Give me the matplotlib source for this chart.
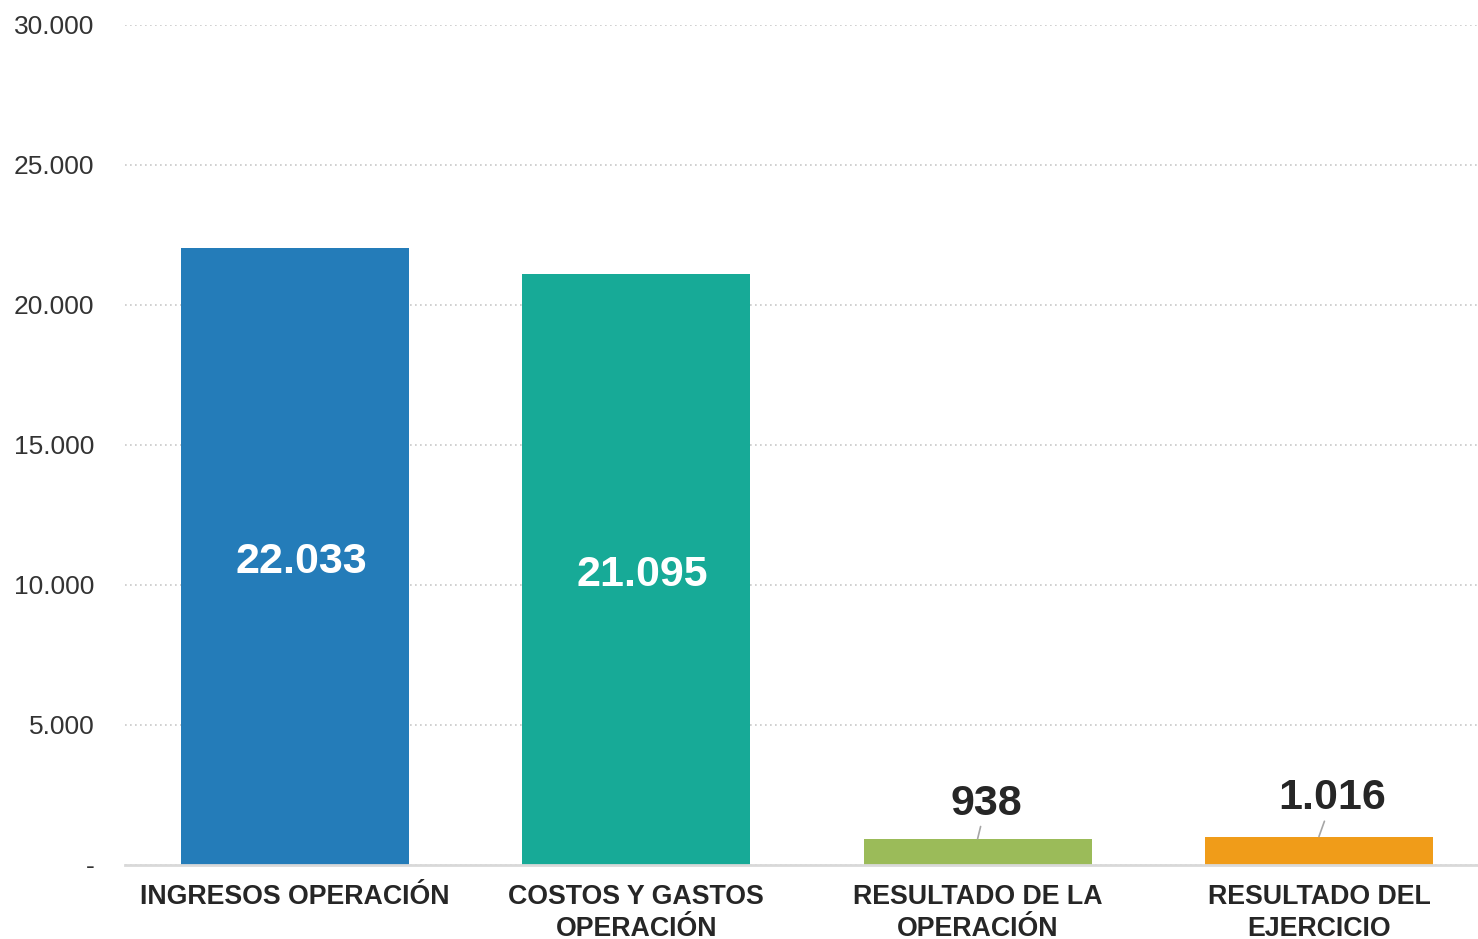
import matplotlib.pyplot as plt
from matplotlib.ticker import FuncFormatter

categorias = ["INGRESOS OPERACIÓN", "COSTOS Y GASTOS\nOPERACIÓN",
              "RESULTADO DE LA\nOPERACIÓN", "RESULTADO DEL\nEJERCICIO"]
valores = [22033, 21095, 938, 1016]
etiquetas = ["22.033", "21.095", "938", "1.016"]
colores = ["#247CB9", "#17AA97", "#9BBB59", "#F09C19"]
ticks_y = [0, 5000, 10000, 15000, 20000, 25000, 30000]

plt.rcParams['font.family'] = ['Liberation Sans', 'DejaVu Sans']

fig = plt.figure(figsize=(14.78, 9.39), dpi=100)
ax = fig.add_axes([125 / 1478, 74 / 939, 1 - 125 / 1478, 840 / 939])

x = list(range(len(valores)))
ax.bar(x, valores, width=0.668, color=colores, zorder=3)

ax.set_xlim(-0.498, 3.466)
ax.set_ylim(0, 30000)
ax.set_yticks(ticks_y)
ax.yaxis.set_major_formatter(FuncFormatter(
    lambda v, p: "-" if v == 0 else f"{int(v):,}".replace(",", ".")))
ax.set_xticks(x)
ax.set_xticklabels(categorias, fontsize=19.3, fontweight='bold', color='#262626',
                   linespacing=1.28)
ax.tick_params(axis='x', length=0, pad=14)
ax.tick_params(axis='y', length=0, pad=22, labelsize=19, labelcolor='#333333')

ax.grid(axis='y', linestyle=(0, (1, 2)), color='#c8c8c8', linewidth=1.2, zorder=0)
for s in ['top', 'right', 'left']:
    ax.spines[s].set_visible(False)
ax.spines['bottom'].set_color('#d9d9d9')
ax.spines['bottom'].set_linewidth(2)
ax.spines['bottom'].set_zorder(4)

# etiquetas dentro de las barras grandes
for i in range(2):
    ax.text(x[i] + 0.018, valores[i] / 2 - 180, etiquetas[i], ha='center', va='center',
            fontsize=31, fontweight='bold', color='white', zorder=5)

# etiquetas sobre las barras pequeñas, con linea guia
ax.annotate(etiquetas[2], xy=(x[2], valores[2]), xytext=(x[2] + 0.025, valores[2] + 1250),
            ha='center', va='center', fontsize=31, fontweight='bold', color='#262626',
            arrowprops=dict(arrowstyle='-', color='#a6a6a6', lw=1.2, shrinkA=18, shrinkB=0))
ax.annotate(etiquetas[3], xy=(x[3], valores[3]), xytext=(x[3] + 0.04, valores[3] + 1360),
            ha='center', va='center', fontsize=31, fontweight='bold', color='#262626',
            arrowprops=dict(arrowstyle='-', color='#a6a6a6', lw=1.2, shrinkA=18, shrinkB=0))

fig.savefig("out.png", dpi=100)
